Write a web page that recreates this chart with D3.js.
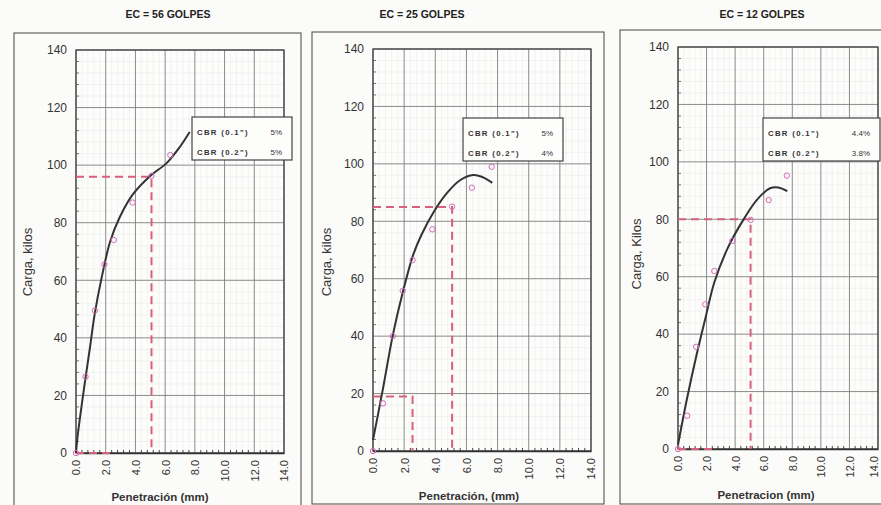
<!DOCTYPE html>
<html>
<head>
<meta charset="utf-8">
<script src="https://cdn.jsdelivr.net/npm/d3@7"></script>
<style>
  html, body { margin: 0; padding: 0; background: #fbfbf9; }
  svg { display: block; font-family: "Liberation Sans", Arial, sans-serif; }
</style>
</head>
<body>
<svg id="chart" width="881" height="505"></svg>
<script>
// ---- Data: CBR load–penetration tests for three compaction energies ----
const titles = ["EC = 56 GOLPES", "EC = 25 GOLPES", "EC = 12 GOLPES"];
const yLabels = ["Carga, kilos", "Carga, kilos", "Carga, Kilos"];
const xLabels = ["Penetración (mm)", "Penetración, (mm)", "Penetracion (mm)"];
const xTicks = [0, 2, 4, 6, 8, 10, 12, 14];
const yTicks = [0, 20, 40, 60, 80, 100, 120, 140];

// measured readings (penetration in mm, load in kg)
const penetracion = [0, 0.64, 1.27, 1.91, 2.54, 3.81, 5.08, 6.35, 7.62];
const carga56 = [0, 26.5, 49.5, 65.5, 74, 87, 96.3, 103.5];
const carga25 = [0, 16.6, 40, 55.8, 66.5, 77.2, 85.1, 91.7, 99];
const carga12 = [0, 11.6, 35.6, 50.4, 62, 72.5, 79.8, 86.7, 95.2];

// fitted load curves, [penetration, load]
const curva56 = [[0, 0], [0.1, 5.5], [0.5, 21], [0.95, 37], [1.25, 48], [1.73, 61], [2.3, 73.5],
                 [2.95, 82], [3.85, 90], [5.05, 96.5], [6.1, 100.7], [7.0, 106.4], [7.65, 111.5]];
const curva25 = [[0, 3.8], [0.65, 22], [1.26, 40], [1.9, 55], [2.59, 68.5], [3.13, 75.5], [3.87, 83],
                 [4.73, 89.7], [5.59, 94.3], [6.44, 96.1], [6.98, 95.5], [7.66, 93.4]];
const curva12 = [[0, 1.5], [0.65, 18], [1.31, 33], [1.94, 46], [2.54, 58], [3.52, 70.4], [4.57, 79.8],
                 [5.51, 86.7], [6.44, 90.8], [7.02, 91.1], [7.65, 89.8]];

// corrected loads read at 0.1" (2.54 mm) and 0.2" (5.08 mm)
const cargaCorr01 = [0, 19, 0];
const cargaCorr02 = [96, 85, 80];

// CBR results
const cbr01 = ["5%", "5%", "4.4%"];
const cbr02 = ["5%", "4%", "3.8%"];

// ---- Layout of the three panels ----
const W = 881;
const layout = [
  { box: [14, 33, 287, 490], plot: [76, 284, 50, 453], tx: 168, ylx: 27, yly: 262, xlx: 160, xly: 497, leg: [192, 117, 100, 43] },
  { box: [312, 32, 292, 472], plot: [373, 591, 49, 451], tx: 422, ylx: 326, yly: 262, xlx: 469, xly: 496, leg: [463, 118, 100, 43] },
  { box: [620, 30, 280, 474], plot: [678, 878, 47, 449], tx: 762, ylx: 636, yly: 254, xlx: 766, xly: 495, leg: [763, 118, 117, 43] }
];

const series = [
  { carga: carga56, curva: curva56 },
  { carga: carga25, curva: curva25 },
  { carga: carga12, curva: curva12 }
];

const svg = d3.select("#chart");
const PINK_DASH = "#d8607e";
const PINK_PT = "#d56ab8";

layout.forEach((L, i) => {
  const g = svg.append("g");
  const [bx, by, bw, bh] = L.box;
  const [px0, px1, py0, py1] = L.plot;

  // outer frame of the panel
  g.append("rect").attr("x", bx).attr("y", by).attr("width", bw).attr("height", bh)
    .attr("fill", "none").attr("stroke", "#555").attr("stroke-width", 1.1);

  // title
  svg.append("text").attr("x", L.tx).attr("y", 18).attr("text-anchor", "middle")
    .attr("font-size", 10.5).attr("font-weight", "bold").attr("fill", "#222").text(titles[i]);

  const x = d3.scaleLinear().domain([0, 14]).range([px0, px1]);
  const y = d3.scaleLinear().domain([0, 140]).range([py1, py0]);

  // plot background
  g.append("rect").attr("x", px0).attr("y", py0).attr("width", px1 - px0).attr("height", py1 - py0)
    .attr("fill", "#fdfdfc");

  // minor grid
  const xMinor = d3.range(0, 14.001, 0.4).filter(v => Math.abs(v / 2 - Math.round(v / 2)) > 1e-6);
  const yMinor = d3.range(0, 140.001, 4).filter(v => v % 20 !== 0);
  g.append("g").selectAll("line").data(xMinor).join("line")
    .attr("x1", d => x(d)).attr("x2", d => x(d)).attr("y1", py0).attr("y2", py1)
    .attr("stroke", "#ebebeb").attr("stroke-width", 0.6);
  g.append("g").selectAll("line").data(yMinor).join("line")
    .attr("y1", d => y(d)).attr("y2", d => y(d)).attr("x1", px0).attr("x2", px1)
    .attr("stroke", "#ebebeb").attr("stroke-width", 0.6);

  // major grid
  g.append("g").selectAll("line").data(xTicks).join("line")
    .attr("x1", d => x(d)).attr("x2", d => x(d)).attr("y1", py0).attr("y2", py1)
    .attr("stroke", "#7e7e7e").attr("stroke-width", 0.9);
  g.append("g").selectAll("line").data(yTicks).join("line")
    .attr("y1", d => y(d)).attr("y2", d => y(d)).attr("x1", px0).attr("x2", px1)
    .attr("stroke", "#7e7e7e").attr("stroke-width", 0.9);

  // plot frame
  g.append("rect").attr("x", px0).attr("y", py0).attr("width", px1 - px0).attr("height", py1 - py0)
    .attr("fill", "none").attr("stroke", "#444").attr("stroke-width", 1.3);

  // y axis
  const yAxis = g.append("g").attr("transform", `translate(${px0},0)`)
    .call(d3.axisLeft(y).tickValues(yTicks).tickSize(0).tickPadding(9).tickFormat(d3.format("d")));
  yAxis.select(".domain").remove();
  yAxis.selectAll("text").attr("font-size", 12).attr("fill", "#333")
    .attr("font-family", "'Liberation Sans', Arial, sans-serif");
  // y minor ticks
  g.append("g").selectAll("line").data(yMinor).join("line")
    .attr("x1", px0).attr("x2", px0 + 3).attr("y1", d => y(d)).attr("y2", d => y(d))
    .attr("stroke", "#555").attr("stroke-width", 0.8);

  // x axis; rotated labels are kept inside the page width
  const xAxis = g.append("g").attr("transform", `translate(0,${py1})`)
    .call(d3.axisBottom(x).tickValues(xTicks).tickSize(0).tickFormat(d3.format(".1f")));
  xAxis.select(".domain").attr("stroke", "#333").attr("stroke-width", 1.6);
  xAxis.selectAll("text")
    .attr("font-size", 11).attr("fill", "#333")
    .attr("font-family", "'Liberation Sans', Arial, sans-serif")
    .attr("text-anchor", "end").attr("dy", "0.35em")
    .attr("transform", d => `translate(${Math.min(0, W - 7 - x(d))},7) rotate(-90)`)
    .attr("x", 0).attr("y", 0);
  // x minor ticks
  g.append("g").selectAll("line").data(xMinor).join("line")
    .attr("x1", d => x(d)).attr("x2", d => x(d)).attr("y1", py1 - 3).attr("y2", py1)
    .attr("stroke", "#333").attr("stroke-width", 0.9);

  // axis titles
  svg.append("text").attr("transform", `translate(${L.ylx},${L.yly}) rotate(-90)`)
    .attr("text-anchor", "middle").attr("dy", "0.35em").attr("font-size", 13).attr("fill", "#333")
    .text(yLabels[i]);
  svg.append("text").attr("x", L.xlx).attr("y", L.xly).attr("text-anchor", "middle").attr("dy", "0.35em")
    .attr("font-size", 11.5).attr("font-weight", "bold").attr("fill", "#333").text(xLabels[i]);

  // reference lines at 0.1" and 0.2"
  const refs = [[penetracion[4], cargaCorr01[i]], [penetracion[6], cargaCorr02[i]]];
  const dash = g.append("g").attr("fill", "none").attr("stroke", PINK_DASH)
    .attr("stroke-width", 2).attr("stroke-dasharray", "8,5");
  refs.forEach(([px, py]) => {
    dash.append("path").attr("d", d3.line()([[x(0), y(py)], [x(px), y(py)], [x(px), y(0)]]));
  });

  // fitted curve
  const line = d3.line().x(d => x(d[0])).y(d => y(d[1])).curve(d3.curveCatmullRom);
  g.append("path").datum(series[i].curva).attr("d", line)
    .attr("fill", "none").attr("stroke", "#333").attr("stroke-width", 2);

  // measured points
  g.append("g").selectAll("circle").data(series[i].carga).join("circle")
    .attr("cx", (d, k) => x(penetracion[k])).attr("cy", d => y(d)).attr("r", 2.7)
    .attr("fill", "none").attr("stroke", PINK_PT).attr("stroke-width", 1);

  // CBR result box
  const [lx, ly, lw, lh] = L.leg;
  const leg = svg.append("g");
  leg.append("rect").attr("x", lx).attr("y", ly).attr("width", lw).attr("height", lh)
    .attr("fill", "#fdfdfc").attr("stroke", "#444").attr("stroke-width", 1.2);
  const rows = [["CBR (0.1\")", cbr01[i]], ["CBR (0.2\")", cbr02[i]]];
  rows.forEach((r, k) => {
    const ty = ly + 15 + k * 20;
    leg.append("text").attr("x", lx + 5).attr("y", ty).attr("dy", "0.35em")
      .attr("font-size", 7.8).attr("font-weight", "bold").attr("letter-spacing", 1.3)
      .attr("fill", "#333").text(r[0]);
    leg.append("text").attr("x", lx + lw - 10).attr("y", ty).attr("dy", "0.35em")
      .attr("text-anchor", "end").attr("font-size", 8).attr("fill", "#333").text(r[1]);
  });
});
</script>
</body>
</html>
